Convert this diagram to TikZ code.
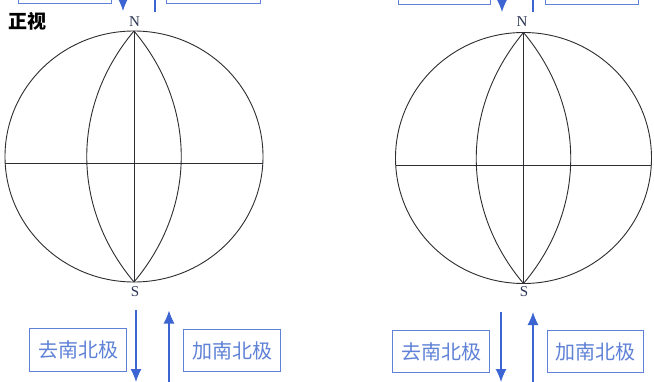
\documentclass[tikz,border=0pt]{standalone}
\usepackage{fontspec}
\newfontfamily\cjk{Noto Sans CJK SC}
\setmainfont{Liberation Serif}
\usetikzlibrary{arrows.meta}
\definecolor{boxblue}{RGB}{95,130,215}
\definecolor{arrblue}{RGB}{60,100,210}
\definecolor{linegray}{RGB}{45,45,50}
\definecolor{poleblue}{RGB}{45,55,85}
\tikzset{
  lbox/.style={draw=boxblue, line width=1pt, text=boxblue, font=\cjk\fontsize{20}{20}\selectfont,
    inner sep=0pt, anchor=north west},
  arr/.style={draw=arrblue, line width=1.1pt, -{Latex[length=13pt,width=11pt]}},
  glob/.style={draw=linegray, line width=0.9pt},
  pole/.style={text=poleblue, font=\fontsize{15}{15}\selectfont, inner sep=0pt},
  title/.style={font=\cjk\bfseries\fontsize{19}{19}\selectfont, inner sep=0pt, anchor=west}
}
\begin{document}
\begin{tikzpicture}[x=1pt,y=-1pt]
\useasboundingbox (0,0) rectangle (654,381);
\clip (0,0) rectangle (654,381);
\fill[white] (0,0) rectangle (654,381);

% ---------- left globe ----------
\coordinate (LN) at (134,31);
\coordinate (LS) at (134,282);
\coordinate (LW) at (5.2,163);
\coordinate (LE) at (262.8,163);
\draw[glob] (134,156.5) ellipse [x radius=129, y radius=125.5];
\draw[glob] (LW) -- (LE);
\draw[glob] (LN) -- (LS);
\draw[glob] (LN) .. controls (71,106) and (71,207) .. (LS);
\draw[glob] (LN) .. controls (197,106) and (197,207) .. (LS);
\node[pole] (nL) at (134.5,21.5) {N};
\node[pole] (sL) at (135,292) {S};
\node[title] (tt) at (8,21) {正视};

% ---------- right globe ----------
\coordinate (RN) at (523.5,32.5);
\coordinate (RS) at (523.5,283.5);
\coordinate (RW) at (395.7,165);
\coordinate (RE) at (651.3,165);
\draw[glob] (523.5,158) ellipse [x radius=128, y radius=125.5];
\draw[glob] (RW) -- (RE);
\draw[glob] (RN) -- (RS);
\draw[glob] (RN) .. controls (460.5,108) and (460.5,209) .. (RS);
\draw[glob] (RN) .. controls (586.5,108) and (586.5,209) .. (RS);
\node[pole] (nR) at (522,21.5) {N};
\node[pole] (sR) at (524,292) {S};

% ---------- top (cut off) ----------
\node[lbox, minimum width=93pt, minimum height=45pt] (tb1) at (18,-42) {};
\node[lbox, minimum width=94pt, minimum height=45pt] (tb2) at (166,-42) {};
\node[lbox, minimum width=92pt, minimum height=46pt] (tb3) at (398,-42) {};
\node[lbox, minimum width=93pt, minimum height=46pt] (tb4) at (545,-42) {};
\coordinate (ta1s) at (123,-40); \coordinate (ta1e) at (123,11);
\coordinate (ta2s) at (155,12);  \coordinate (ta2e) at (155,-40);
\coordinate (ta3s) at (502,-40); \coordinate (ta3e) at (502,12);
\coordinate (ta4s) at (533,12);  \coordinate (ta4e) at (533,-40);
\draw[arr] (ta1s) -- (ta1e);
\draw[arr] (ta2s) -- (ta2e);
\draw[arr] (ta3s) -- (ta3e);
\draw[arr] (ta4s) -- (ta4e);

% ---------- bottom ----------
\node[lbox, minimum width=97pt, minimum height=43pt] (b1) at (29,328) {去南北极};
\node[lbox, minimum width=97pt, minimum height=42pt] (b2) at (183,329) {加南北极};
\node[lbox, minimum width=97pt, minimum height=42pt] (b3) at (392,330) {去南北极};
\node[lbox, minimum width=96pt, minimum height=42pt] (b4) at (547,330) {加南北极};
\coordinate (ba1s) at (136,310); \coordinate (ba1e) at (136,382);
\coordinate (ba2s) at (169,400); \coordinate (ba2e) at (169,310.5);
\coordinate (ba3s) at (501,312); \coordinate (ba3e) at (501,382);
\coordinate (ba4s) at (533,400); \coordinate (ba4e) at (533,312);
\draw[arr] (ba1s) -- (ba1e);
\draw[arr] (ba2s) -- (ba2e);
\draw[arr] (ba3s) -- (ba3e);
\draw[arr] (ba4s) -- (ba4e);
\end{tikzpicture}
\end{document}
